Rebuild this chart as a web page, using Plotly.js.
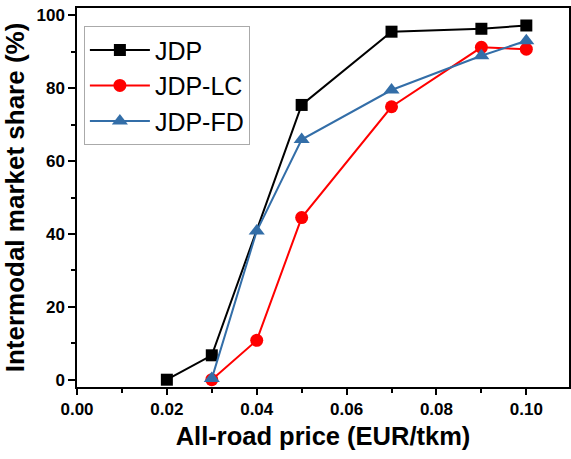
<!DOCTYPE html>
<html><head><meta charset="utf-8">
<script src="https://cdn.plot.ly/plotly-3.0.1.min.js"></script>
<style>body{margin:0;background:#fff}#c{width:571px;height:459px}</style>
</head><body><div id="c"></div>
<script>
const jdpX = [0.02, 0.03, 0.05, 0.07, 0.09, 0.10];
const jdpY = [0, 6.7, 75.4, 95.5, 96.3, 97.2];
const lcX = [0.03, 0.04, 0.05, 0.07, 0.09, 0.10];
const lcY = [0, 10.8, 44.5, 74.9, 91.2, 90.7];
const fdX = [0.03, 0.04, 0.05, 0.07, 0.09, 0.10];
const fdY = [0.3, 40.8, 65.9, 79.5, 88.9, 93.0];
const names = ['JDP', 'JDP-LC', 'JDP-FD'];
const xTicks = [0, 0.02, 0.04, 0.06, 0.08, 0.10];
const xTickText = ['0.00', '0.02', '0.04', '0.06', '0.08', '0.10'];
const yTicks = [0, 20, 40, 60, 80, 100];

const traces = [
  {x: jdpX, y: jdpY, name: names[0], mode: 'lines+markers', line: {color: '#000000', width: 2},
   marker: {symbol: 'square', size: 12, color: '#000000'}},
  {x: lcX, y: lcY, name: names[1], mode: 'lines+markers', line: {color: '#ff0000', width: 2},
   marker: {symbol: 'circle', size: 13, color: '#ff0000'}},
  {x: fdX, y: fdY, name: names[2], mode: 'lines+markers', line: {color: '#336ea8', width: 2},
   marker: {symbol: 'triangle-up', size: 14, color: '#336ea8'}}
];

const layout = {
  width: 571, height: 459,
  margin: {l: 77, r: 2, t: 8, b: 72},
  paper_bgcolor: '#fff', plot_bgcolor: '#fff',
  font: {family: 'Liberation Sans, Arial, sans-serif', color: '#000'},
  showlegend: true,
  legend: {x: 0.014, y: 0.952, xanchor: 'left', yanchor: 'top', bgcolor: '#fff',
           bordercolor: '#aaa', borderwidth: 1, font: {size: 25, color: '#000'},
           tracegroupgap: 0, itemwidth: 60},
  xaxis: {range: [0, 0.1095], tickvals: xTicks, ticktext: xTickText,
          showgrid: false, zeroline: false, showline: true, linecolor: '#000', linewidth: 1.5,
          mirror: true, ticks: 'outside', ticklen: 6, tickwidth: 1.5, tickcolor: '#000',
          minor: {dtick: 0.01, tick0: 0, ticks: 'outside', ticklen: 4, tickwidth: 1.5, tickcolor: '#000'},
          tickfont: {size: 17, family: 'Liberation Sans, Arial, sans-serif', weight: 'bold'},
          title: {text: '<b>All-road price (EUR/tkm)</b>', font: {size: 25.5}, standoff: 9}},
  yaxis: {range: [-2, 102], tickvals: yTicks,
          showgrid: false, zeroline: false, showline: true, linecolor: '#000', linewidth: 1.5,
          mirror: true, ticks: 'outside', ticklen: 7, tickwidth: 1.5, tickcolor: '#000',
          minor: {dtick: 10, tick0: 0, ticks: 'outside', ticklen: 4, tickwidth: 1.5, tickcolor: '#000'},
          tickfont: {size: 17, family: 'Liberation Sans, Arial, sans-serif', weight: 'bold'},
          title: {text: '<b>Intermodal market share (%)</b>', font: {size: 26}, standoff: 6}}
};
Plotly.newPlot('c', traces, layout, {displayModeBar: false});
</script></body></html>
